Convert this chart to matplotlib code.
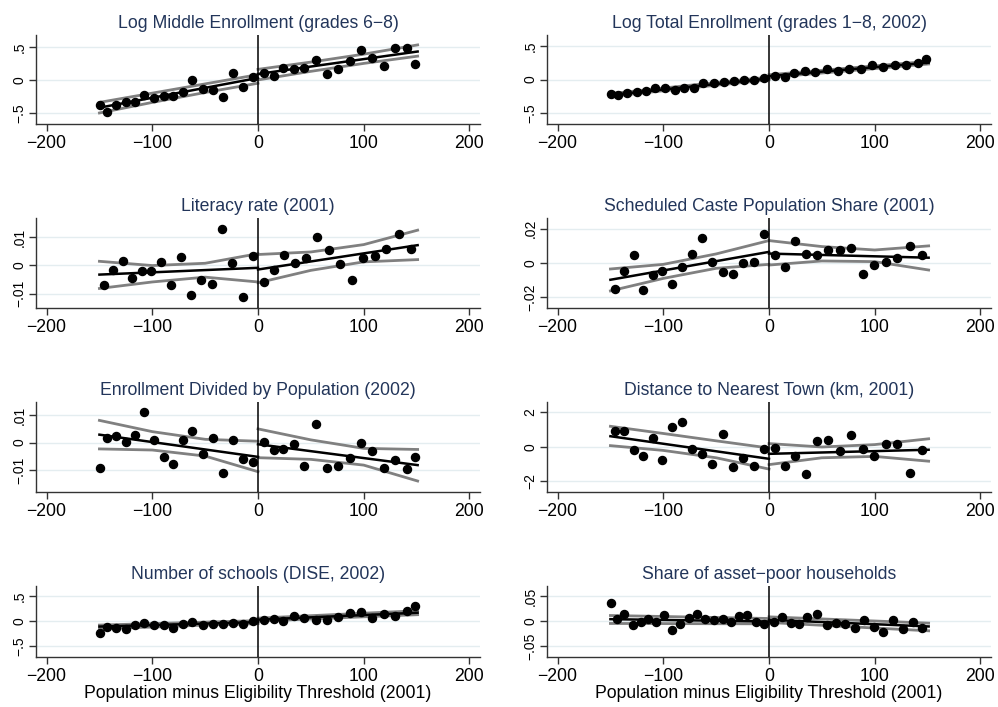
import matplotlib
matplotlib.use("Agg")
import matplotlib.pyplot as plt

plt.rcParams['font.family'] = ['Liberation Sans', 'DejaVu Sans']

# Bin centres (population minus threshold)
BinsA = [-149, -143, -134, -125, -116, -107.5, -98.5, -89, -80, -71, -62, -52.5, -42.5, -33, -24, -14, -5,
         5.4, 15, 24, 34, 43.7, 54.5, 65, 76, 86.8, 97, 108, 119, 130, 141, 148.7]
BinsB = [-146, -137, -128, -119, -110, -101, -91.5, -82, -73, -63, -53.5, -43.5, -33.8, -24.3, -14.6, -5,
         5.5, 15, 25, 34.7, 45, 56, 67, 78, 89, 99, 110.5, 121.5, 133, 144.3]
BinsC = [-149, -144, -136.7, -129, -121, -114, -107, -99, -91.7, -83.8, -76, -68, -60.2, -52.3, -43.8, -35.9,
         -28.3, -20.5, -12.3, -4.4, 4.4, 12.6, 20.5, 28.3, 36.2, 45, 54.5, 63.3, 72.1, 81.6, 90, 98.9, 107.7,
         117, 126.6, 136, 145]

# x positions where fitted lines / confidence bands are read
FitXLeft = [-150, 0]
FitXRight = [0, 151]
CIXLeft = [-150, -100, -50, 0]
CIXRight = [0, 50, 100, 151]

Titles = ["Log Middle Enrollment (grades 6\u22128)",
          "Log Total Enrollment (grades 1\u22128, 2002)",
          "Literacy rate (2001)",
          "Scheduled Caste Population Share (2001)",
          "Enrollment Divided by Population (2002)",
          "Distance to Nearest Town (km, 2001)",
          "Number of schools (DISE, 2002)",
          "Share of asset\u2212poor households"]

XLabel = "Population minus Eligibility Threshold (2001)"

# Panel 1: log middle enrollment
MidY = [-0.38, -0.48, -0.38, -0.33, -0.34, -0.23, -0.28, -0.24, -0.25, -0.18, 0.0, -0.14, -0.15, -0.26, 0.10,
        -0.10, 0.04, 0.10, 0.06, 0.18, 0.16, 0.18, 0.30, 0.09, 0.16, 0.28, 0.45, 0.33, 0.21, 0.48, 0.48, 0.24]
MidFitL = [-0.42, 0.03]
MidFitR = [0.09, 0.43]
MidHiL = [-0.34, -0.20, -0.06, 0.08]
MidLoL = [-0.50, -0.34, -0.19, -0.05]
MidHiR = [0.16, 0.27, 0.39, 0.53]
MidLoR = [0.0, 0.13, 0.25, 0.36]

# Panel 2: log total enrollment
TotY = [-0.22, -0.23, -0.20, -0.19, -0.17, -0.13, -0.12, -0.15, -0.13, -0.12, -0.05, -0.05, -0.035, -0.025,
        -0.01, -0.01, 0.02, 0.055, 0.03, 0.09, 0.12, 0.11, 0.15, 0.12, 0.16, 0.16, 0.21, 0.18, 0.21, 0.21, 0.25, 0.30]
TotFitL = [-0.23, 0.015]
TotFitR = [0.05, 0.25]
TotHiL = [-0.21, -0.127, -0.045, 0.035]
TotLoL = [-0.25, -0.167, -0.085, -0.005]
TotHiR = [0.07, 0.136, 0.202, 0.27]
TotLoR = [0.03, 0.096, 0.162, 0.23]

# Panel 3: literacy rate
LitY = [-0.0071, -0.0015, 0.0016, -0.0045, -0.0021, -0.0019, 0.0013, -0.0069, 0.0029, -0.0104, -0.0052,
        -0.0067, 0.0128, 0.0007, -0.0111, 0.0034, -0.0059, -0.0016, 0.0038, 0.0008, 0.0024, 0.0101, 0.0054,
        0.0005, -0.0052, 0.0024, 0.0033, 0.0059, 0.0112, 0.0056]
LitFitL = [-0.0033, -0.0009]
LitFitR = [-0.0015, 0.0071]
LitHiL = [0.0014, -0.0001, 0.0007, 0.0041]
LitLoL = [-0.0082, -0.0059, -0.0042, -0.0059]
LitHiR = [0.0038, 0.0047, 0.0073, 0.0124]
LitLoR = [-0.0062, -0.0018, 0.0012, 0.0020]

# Panel 4: scheduled caste share
CasteY = [-0.0153, -0.0049, 0.0049, -0.0157, -0.0071, -0.0049, -0.0122, -0.0024, 0.0053, 0.0147, 0.0004,
          -0.0055, -0.0065, 0.0, 0.0008, 0.0171, 0.0049, -0.0025, 0.0129, 0.0053, 0.0049, 0.0078, 0.0078,
          0.0088, -0.0067, -0.0012, 0.0004, 0.0027, 0.0100, 0.0049]
CasteFitL = [-0.0098, 0.0065]
CasteFitR = [0.0055, 0.0031]
CasteHiL = [-0.0035, -0.0008, 0.0053, 0.0131]
CasteLoL = [-0.0163, -0.0090, -0.0031, -0.0008]
CasteHiR = [0.0131, 0.0096, 0.0076, 0.0100]
CasteLoR = [-0.0012, 0.0012, 0.0008, -0.0041]

# Panel 5: enrollment / population
EnrY = [-0.0094, 0.0018, 0.0023, 0.0001, 0.0029, 0.0110, 0.0009, -0.0053, -0.0079, 0.0009, 0.0043, -0.0042,
        0.0016, -0.0112, 0.0011, -0.0060, -0.0072, 0.0004, -0.0026, -0.0022, -0.0004, -0.0085, 0.0069,
        -0.0093, -0.0086, -0.0055, -0.0001, -0.0029, -0.0093, -0.0064, -0.0097, -0.0054]
EnrFitL = [0.0029, -0.0052]
EnrFitR = [-0.0006, -0.0082]
EnrHiL = [0.0081, 0.0040, 0.0012, 0.0005]
EnrLoL = [-0.0023, -0.0027, -0.0049, -0.0106]
EnrHiR = [0.0050, 0.0010, -0.0021, -0.0025]
EnrLoR = [-0.0055, -0.0061, -0.0082, -0.0140]

# Panel 6: distance to nearest town
DistY = [0.89, 0.91, -0.18, -0.55, 0.48, -0.77, 1.15, 1.47, -0.12, -0.44, -1.01, 0.73, -1.19, -0.65, -1.11,
         -0.14, -0.10, -1.15, -0.57, -1.58, 0.32, 0.38, -0.26, 0.67, -0.16, -0.57, 0.18, 0.16, -1.56, -0.22]
DistFitL = [0.61, -0.71]
DistFitR = [-0.42, -0.18]
DistHiL = [1.19, 0.77, 0.34, -0.08]
DistLoL = [0.06, -0.22, -0.65, -1.31]
DistHiR = [0.18, -0.02, 0.12, 0.46]
DistLoR = [-1.05, -0.65, -0.57, -0.85]

# Panel 7: number of schools
SchY = [-0.24, -0.12, -0.13, -0.15, -0.07, -0.04, -0.08, -0.07, -0.14, -0.05, -0.02, -0.07, -0.05, -0.06,
        -0.03, -0.05, 0.01, 0.03, 0.05, 0.01, 0.11, 0.07, 0.02, 0.03, 0.09, 0.16, 0.19, 0.07, 0.15, 0.11, 0.21, 0.31]
SchFitL = [-0.11, -0.02]
SchFitR = [0.03, 0.17]
SchHiL = [-0.08, -0.05, -0.02, 0.01]
SchLoL = [-0.15, -0.12, -0.08, -0.05]
SchHiR = [0.06, 0.11, 0.16, 0.21]
SchLoR = [0.0, 0.043, 0.087, 0.13]

# Panel 8: asset-poor households
AssetY = [0.0369, 0.0034, 0.0154, -0.0087, -0.0027, 0.0047, -0.0020, 0.0121, -0.0181, -0.0067, 0.0054,
          0.0141, 0.0047, 0.0027, 0.0034, -0.0020, 0.0107, 0.0121, -0.0027, -0.0054, -0.0007, 0.0074,
          -0.0040, -0.0060, 0.0080, 0.0154, -0.0087, -0.0047, -0.0054, -0.0148, 0.0027, -0.0121, -0.0215,
          0.0020, -0.0161, -0.0020, -0.0134]
AssetFitL = [0.0040, -0.0007]
AssetFitR = [0.0027, -0.0107]
AssetHiL = [0.0114, 0.0094, 0.0074, 0.0054]
AssetLoL = [-0.0047, -0.0049, -0.0052, -0.0054]
AssetHiR = [0.0087, 0.0045, 0.0003, -0.0040]
AssetLoR = [-0.0027, -0.0083, -0.0139, -0.0195]

Panels = [
    (BinsA, MidY, MidFitL, MidFitR, MidHiL, MidLoL, MidHiR, MidLoR),
    (BinsA, TotY, TotFitL, TotFitR, TotHiL, TotLoL, TotHiR, TotLoR),
    (BinsB, LitY, LitFitL, LitFitR, LitHiL, LitLoL, LitHiR, LitLoR),
    (BinsB, CasteY, CasteFitL, CasteFitR, CasteHiL, CasteLoL, CasteHiR, CasteLoR),
    (BinsA, EnrY, EnrFitL, EnrFitR, EnrHiL, EnrLoL, EnrHiR, EnrLoR),
    (BinsB, DistY, DistFitL, DistFitR, DistHiL, DistLoL, DistHiR, DistLoR),
    (BinsA, SchY, SchFitL, SchFitR, SchHiL, SchLoL, SchHiR, SchLoR),
    (BinsC, AssetY, AssetFitL, AssetFitR, AssetHiL, AssetLoL, AssetHiR, AssetLoR),
]

YTicks = [([-0.5, 0, 0.5], ["\u2212.5", "0", ".5"]),
          ([-0.5, 0, 0.5], ["\u2212.5", "0", ".5"]),
          ([-0.01, 0, 0.01], ["\u2212.01", "0", ".01"]),
          ([-0.02, 0, 0.02], ["\u2212.02", "0", ".02"]),
          ([-0.01, 0, 0.01], ["\u2212.01", "0", ".01"]),
          ([-2, 0, 2], ["\u22122", "0", "2"]),
          ([-0.5, 0, 0.5], ["\u2212.5", "0", ".5"]),
          ([-0.05, 0, 0.05], ["\u2212.05", "0", ".05"])]

YLims = [(-0.667, 0.68), (-0.66, 0.66), (-0.0151, 0.0167), (-0.0263, 0.0263),
         (-0.018, 0.0148), (-2.65, 2.61), (-0.725, 0.71), (-0.0725, 0.0711)]

# Layout in pixels (figure is 998 x 707)
W, H = 998.0, 707.0
Cols = [(36, 480), (547, 991)]
Rows = [(35, 124), (218, 308), (402, 492), (586, 657)]

TitleColor = '#22355a'
GridColor = '#e4edf0'

fig = plt.figure(figsize=(W / 100, H / 100), dpi=100)

for i, (bx, by, fl, fr, hl, ll, hr, lr) in enumerate(Panels):
    row, col = divmod(i, 2)
    x0, x1 = Cols[col]
    top, bottom = Rows[row]
    ax = fig.add_axes([x0 / W, 1 - bottom / H, (x1 - x0) / W, (bottom - top) / H])

    # confidence bands
    ax.plot(CIXLeft, hl, color='#808080', lw=2.0, zorder=2)
    ax.plot(CIXLeft, ll, color='#808080', lw=2.0, zorder=2)
    ax.plot(CIXRight, hr, color='#808080', lw=2.0, zorder=2)
    ax.plot(CIXRight, lr, color='#808080', lw=2.0, zorder=2)
    # fitted lines
    ax.plot(FitXLeft, fl, color='black', lw=1.8, zorder=3)
    ax.plot(FitXRight, fr, color='black', lw=1.8, zorder=3)
    # binned means
    ax.plot(bx, by, 'o', color='black', ms=5.8, zorder=4)
    ax.axvline(0, color='black', lw=1.1, zorder=3)

    ax.set_xlim(-210, 210)
    ax.set_ylim(*YLims[i])
    ax.set_xticks([-200, -100, 0, 100, 200])
    ax.set_xticklabels(["\u2212200", "\u2212100", "0", "100", "200"], fontsize=12.7)
    ticks, labels = YTicks[i]
    ax.set_yticks(ticks)
    ax.set_yticklabels(labels, rotation=90, va='center', fontsize=10)
    ax.grid(axis='y', color=GridColor, lw=1.0, zorder=0)
    ax.set_axisbelow(True)
    for side in ['top', 'right']:
        ax.spines[side].set_visible(False)
    for side in ['left', 'bottom']:
        ax.spines[side].set_color('#333333')
        ax.spines[side].set_linewidth(1.0)
    ax.tick_params(direction='out', length=5, width=1.0, color='#333333', pad=2)
    ax.tick_params(axis='x', pad=3)
    ax.set_title(Titles[i], fontsize=12.7, color=TitleColor, pad=5)
    if row == 3:
        ax.set_xlabel(XLabel, fontsize=12.7, labelpad=0)

fig.savefig('out.png', dpi=100)
